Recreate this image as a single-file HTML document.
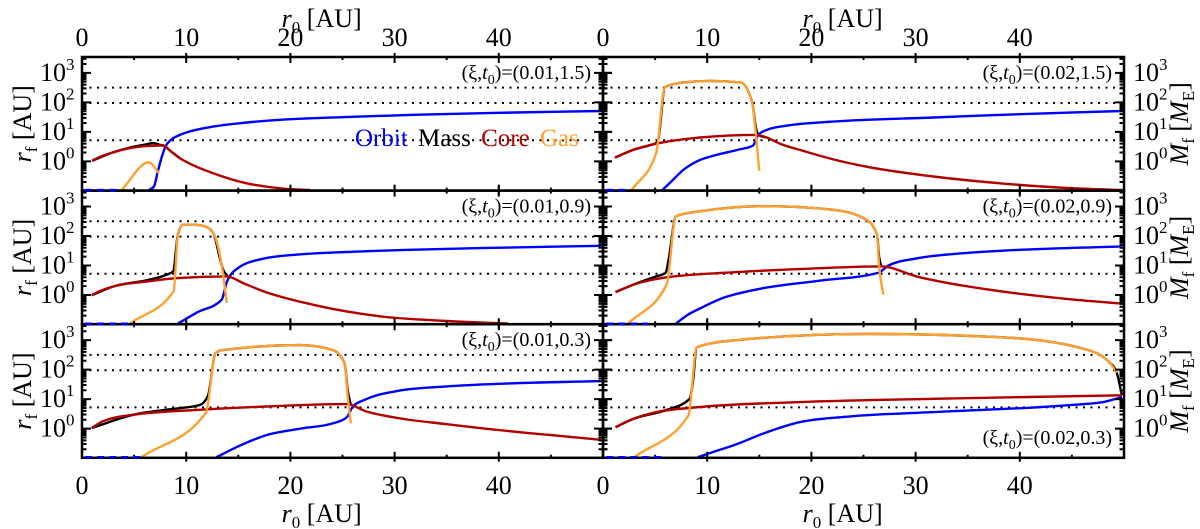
<!DOCTYPE html>
<html><head><meta charset="utf-8"><style>
body{margin:0;background:#fff;}
svg{display:block;}
text{font-family:"Liberation Serif","Times New Roman",Times,"DejaVu Serif",serif;}
</style></head><body>
<svg id="fig" width="1200" height="529" viewBox="0 0 1200 529" xmlns="http://www.w3.org/2000/svg">
<g id="grid"></g><g id="curves"></g><g id="frames"></g><g id="dashes"></g><g id="labels"></g>
</svg>
<script>
// Data: [r0 (AU), log10(value)]
const xTicks = [0,10,20,30,40];
const yDecades = [0,1,2,3];
const refLines = [2.5, 1.98, 0.72];
const panelLabels = ["(0.01,1.5)","(0.02,1.5)","(0.01,0.9)","(0.02,0.9)","(0.01,0.3)","(0.02,0.3)"];
const dashEnds = [3.5, 2.5, 5, 4.3, 6, 6];

const orbitP1 = [[6.4,-0.97],[6.9,-0.85],[7.3,-0.3],[7.7,0.2],[8.0,0.5],[8.5,0.72],[9.4,0.9],[10.5,1.03],[12.6,1.18],[15,1.29],[19,1.41],[25,1.5],[31.8,1.58],[40,1.65],[49.9,1.71]];
const massP1  = [[0.96,0.02],[3,0.31],[4.6,0.47],[6.2,0.58],[6.8,0.62],[7.5,0.56],[7.8,0.54],[8.5,0.35],[9.4,0.11]];
const coreP1  = [[0.96,0.02],[1.5,0.12],[3,0.31],[4.6,0.45],[6.2,0.52],[7.8,0.54],[8.5,0.35],[9.4,0.11],[10.5,-0.1],[12.6,-0.4],[15.8,-0.74],[19,-0.91],[21.9,-0.97]];
const gasP1   = [[3.8,-0.97],[6.4,-0.03],[7.4,-0.4]];

const orbitP2 = [[5.7,-0.97],[6.5,-0.7],[7.7,-0.29],[9,0.0],[10.9,0.22],[13,0.4],[14.4,0.54],[14.9,0.9],[15.8,1.08],[17.6,1.21],[22.1,1.35],[31.7,1.49],[40,1.6],[49.8,1.71]];
const massP2  = [[1.15,0.13],[2.9,0.39],[4.5,0.55],[5.1,0.62],[5.3,0.75],[5.95,2.52],[7.7,2.68],[10.3,2.73],[13.2,2.68],[14.3,2.03],[14.7,1.1],[15.0,0.88],[15.7,0.81]];
const coreP2  = [[1.15,0.13],[2.9,0.39],[6.1,0.67],[9.3,0.81],[14.7,0.9],[15.7,0.81],[17,0.6],[18.9,0.39],[22,0.08],[25.3,-0.18],[31.7,-0.51],[38.1,-0.74],[44.5,-0.9],[49.8,-0.97]];
const gasP2   = [[2.75,-0.97],[5.1,0.28],[5.95,2.52],[7.7,2.68],[10.3,2.73],[13.2,2.68],[14.3,2.03],[14.6,1.18],[15.0,-0.32]];

const orbitP3 = [[9.2,-0.97],[11,-0.6],[13.4,-0.16],[13.9,0.44],[15.0,0.92],[17.4,1.23],[21,1.38],[25.4,1.46],[31,1.53],[38.2,1.59],[49.8,1.67]];
const massP3  = [[0.93,-0.01],[3,0.29],[6.2,0.5],[8.2,0.7],[8.75,0.8],[9.2,2.05],[9.7,2.38],[10.8,2.38],[11.8,2.33],[12.6,2.1],[13.2,1.3],[13.5,0.9],[14,0.63]];
const coreP3  = [[0.93,-0.01],[1.5,0.1],[3,0.29],[6.2,0.46],[9.4,0.58],[13.9,0.63],[15.5,0.4],[17.4,0.13],[22.2,-0.33],[28.6,-0.72],[35,-0.88],[40.9,-0.97]];
const gasP3   = [[4.6,-0.97],[8.8,0.13],[9.2,2.05],[9.7,2.38],[10.8,2.38],[11.8,2.33],[12.6,2.1],[13.4,1.03],[13.9,-0.27]];

const orbitP4 = [[7.0,-0.97],[8,-0.7],[9.4,-0.44],[11.5,-0.1],[14.2,0.15],[20.6,0.48],[26.4,0.75],[27.4,1.0],[30.2,1.25],[34,1.4],[38.2,1.5],[49.8,1.65]];
const massP4  = [[1.2,0.1],[2.9,0.35],[5.0,0.62],[6.0,0.75],[6.3,1.2],[7.0,2.67],[9.3,2.84],[15.7,3.01],[22.1,2.89],[25.3,2.55],[26.3,2.04],[26.5,1.3],[26.7,0.97]];
const coreP4  = [[1.2,0.1],[2.9,0.35],[6.1,0.6],[12.5,0.77],[18.9,0.88],[26.7,0.97],[30.1,0.63],[34,0.35],[38.1,0.13],[44.5,-0.13],[49.8,-0.29]];
const gasP4   = [[2.4,-0.97],[6.1,0.35],[7.0,2.67],[9.3,2.84],[15.7,3.01],[22.1,2.89],[25.3,2.55],[26.3,2.04],[26.5,1.0],[26.9,0.01]];

const orbitP5 = [[12.9,-0.97],[15,-0.6],[17.7,-0.22],[21,0.0],[24.1,0.18],[25.4,0.38],[26.0,0.75],[27.3,1.0],[30.3,1.28],[35,1.43],[40,1.52],[49.8,1.61]];
const massP5  = [[0.93,0.02],[4.9,0.47],[9,0.68],[11.3,0.8],[12.1,1.13],[12.8,2.55],[13.4,2.66],[20.9,2.83],[24.1,2.66],[25.2,2.21],[25.5,1.3],[25.8,0.8]];
const coreP5  = [[0.93,0.02],[2,0.25],[4.9,0.47],[11.3,0.64],[17.7,0.75],[25.4,0.83],[27.3,0.58],[30.3,0.36],[35,0.15],[40,-0.05],[45,-0.22],[49.8,-0.38]];
const gasP5   = [[5.7,-0.97],[11.9,0.54],[12.8,2.55],[13.4,2.66],[20.9,2.83],[24.1,2.66],[25.2,2.21],[25.5,1.08],[25.8,0.18]];

const orbitP6 = [[9.1,-0.97],[10.5,-0.8],[12.5,-0.57],[15.5,-0.15],[18.9,0.22],[24,0.42],[31.7,0.56],[44.5,0.79],[48,0.9],[49.8,1.07]];
const massP6  = [[1.2,0.05],[2.9,0.33],[6,0.62],[8.3,1.0],[8.6,1.5],[9.0,2.76],[12.5,2.99],[25.3,3.21],[38.1,3.1],[46.1,2.71],[48.6,2.25],[49.3,1.9],[49.8,1.13]];
const coreP6  = [[1.2,0.05],[2.9,0.33],[5,0.55],[9.3,0.73],[18.9,0.9],[31.7,1.01],[49.8,1.13]];
const gasP6   = [[3.0,-0.97],[8.2,0.44],[9.0,2.76],[12.5,2.99],[25.3,3.21],[38.1,3.1],[46.1,2.71],[48.6,2.25],[49.3,1.9]];

const orbits=[orbitP1,orbitP2,orbitP3,orbitP4,orbitP5,orbitP6];
const masses=[massP1,massP2,massP3,massP4,massP5,massP6];
const cores=[coreP1,coreP2,coreP3,coreP4,coreP5,coreP6];
const gases=[gasP1,gasP2,gasP3,gasP4,gasP5,gasP6];

const NS="http://www.w3.org/2000/svg";
const X0=[82,603], XS=10.42, ROWTOP=[57,190.6,324.2], ROWBOT=[190.6,324.2,457.8], DEC=29.5;
const VMIN=-0.97, VMAX=3.54;
function xs(col,r){return X0[col]+r*XS;}
function ys(row,v){v=Math.max(VMIN,Math.min(VMAX,v));return ROWTOP[row]+(VMAX-v)*DEC;}
function mk(tag,attrs,parent){const e=document.createElementNS(NS,tag);for(const k in attrs)e.setAttribute(k,attrs[k]);parent.appendChild(e);return e;}
function monoPath(pts){
  const n=pts.length; if(n<2)return '';
  const h=[],s=[];
  for(let i=0;i<n-1;i++){h.push(pts[i+1][0]-pts[i][0]);s.push((pts[i+1][1]-pts[i][1])/h[i]);}
  const t=[s[0]];
  for(let i=1;i<n-1;i++){
    const s0=s[i-1],s1=s[i],h0=h[i-1],h1=h[i];
    const p=(s0*h1+s1*h0)/(h0+h1);
    t.push((Math.sign(s0)+Math.sign(s1))*Math.min(Math.abs(s0),Math.abs(s1),0.5*Math.abs(p))||0);
  }
  t.push(s[n-2]);
  let d=`M${pts[0][0].toFixed(1)},${pts[0][1].toFixed(1)}`;
  for(let i=0;i<n-1;i++){
    const dx=h[i]/3;
    d+=`C${(pts[i][0]+dx).toFixed(1)},${(pts[i][1]+t[i]*dx).toFixed(1)} ${(pts[i+1][0]-dx).toFixed(1)},${(pts[i+1][1]-t[i+1]*dx).toFixed(1)} ${pts[i+1][0].toFixed(1)},${pts[i+1][1].toFixed(1)}`;
  }
  return d;
}
const G=document.getElementById('grid'),C=document.getElementById('curves'),F=document.getElementById('frames'),D=document.getElementById('dashes'),L=document.getElementById('labels');

for(let p=0;p<6;p++){
  const col=p%2,row=Math.floor(p/2);
  const xl=X0[col], xr=X0[col]+521, yt=ROWTOP[row], yb=ROWBOT[row];
  refLines.forEach(v=>{
    const l=mk('line',{x1:xl,x2:xr,y1:ys(row,v),y2:ys(row,v),stroke:'#000','stroke-width':2,'stroke-dasharray':'2 5.5'},G);
    
    
  });
  const g=mk('g',{},C);
  
  
  const line=(data,color,name)=>{
    const px=data.map(d=>[xs(col,d[0]),ys(row,d[1])]);
    const pl=mk('path',{d:monoPath(px),fill:'none',stroke:color,'stroke-width':2.4,'stroke-linejoin':'round'},g);
    
    
  };
  line(masses[p],'#000','mass-line');
  line(orbits[p],'#0000ff','orbit-line');
  line(cores[p],'#b00000','core-line');
  line(gases[p],'#ffa030','gas-line');
  const fr=mk('rect',{x:xl,y:yt,width:521,height:yb-yt,fill:'none',stroke:'#000','stroke-width':2.5},F);
  
  
  const dl=mk('line',{x1:xs(col,0.3),x2:xs(col,dashEnds[p]),y1:yb-0.5,y2:yb-0.5,stroke:'#0000ff','stroke-width':2.5,'stroke-dasharray':'7 5'},D);
  
  
  let d='';
  for(let dec=-1;dec<=3;dec++){for(let k=1;k<10;k++){const v=dec+Math.log10(k);if(v<VMIN||v>VMAX)continue;const y=ys(row,v);const len=k==1?9:4.5;
    d+=`M${xl},${y}h${len}M${xr},${y}h${-len}`; if(col==0)d+=`M${xr},${y}h${len}`; }}
  xTicks.forEach(t=>{const x=xs(col,t);if(t==0)return;d+=`M${x},${yt}v6M${x},${yb}v-6M${x},${yt}v-4M${x},${yb}v4`;});
  for(let t=5;t<50;t+=10){const x=xs(col,t);d+=`M${x},${yt}v3M${x},${yb}v-3`;}
  const tk=mk('path',{d:d,stroke:'#000','stroke-width':2,fill:'none'},F);
  
  
  yDecades.forEach(dec=>{
    const y=ys(row,dec)+8;
    const t=mk('text',{x:col==0?40:1133,y:y,'font-size':26},L);
    t.innerHTML='10<tspan font-size="17" dy="-11">'+dec+'</tspan>';
    
    
  });
  const isLast=p==5;
  const pt=mk('text',{x:xr-12,y:isLast?yb-14:yt+22,'font-size':20,'text-anchor':'end'},L);
  pt.innerHTML='(ξ,<tspan font-style="italic">t</tspan><tspan font-size="14" dy="5">0</tspan><tspan dy="-5">)=</tspan>'+panelLabels[p];
  
  
  const cy=(yt+yb)/2;
  if(col==0){
    const at=mk('text',{x:0,y:0,'font-size':26,'text-anchor':'middle',transform:`translate(31,${cy}) rotate(-90)`},L);
    at.innerHTML='<tspan font-style="italic">r</tspan><tspan font-size="17" dy="6">f</tspan><tspan dy="-6"> [AU]</tspan>';
    
    
  } else {
    const at=mk('text',{x:0,y:0,'font-size':26,'text-anchor':'middle',transform:`translate(1188,${cy}) rotate(-90)`},L);
    at.innerHTML='<tspan font-style="italic">M</tspan><tspan font-size="17" dy="6">f</tspan><tspan dy="-6"> [</tspan><tspan font-style="italic">M</tspan><tspan font-size="17" dy="6">E</tspan><tspan dy="-6">]</tspan>';
    
    
  }
}
for(let col=0;col<2;col++){
  xTicks.forEach(t=>{
    [[46,'x-tick-label-top'],[494,'x-tick-label-bottom']].forEach(([y,nm])=>{
      const tx=mk('text',{x:xs(col,t),y:y,'font-size':26,'text-anchor':'middle'},L);
      tx.textContent=t;
      
      
    });
  });
  [[27,'x-axis-title-top'],[522,'x-axis-title-bottom']].forEach(([y,nm])=>{
    const tt=mk('text',{x:xs(col,23),y:y,'font-size':26,'text-anchor':'middle'},L);
    tt.innerHTML='<tspan font-style="italic">r</tspan><tspan font-size="17" dy="6">0</tspan><tspan dy="-6"> [AU]</tspan>';
    
    
  });
}
const lg=mk('text',{x:355,y:146,'font-size':25,'word-spacing':'4'},L);
lg.innerHTML='<tspan fill="#0000ff">Orbit</tspan> <tspan fill="#000">Mass</tspan> <tspan fill="#b00000">Core</tspan> <tspan fill="#ffa030">Gas</tspan>';


</script>
</body></html>
